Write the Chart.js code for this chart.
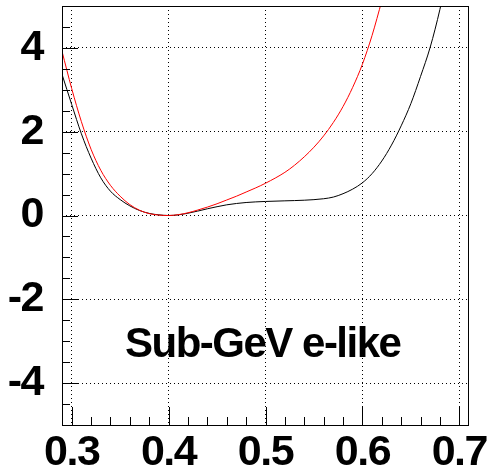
<!DOCTYPE html>
<html>
<head>
<meta charset="utf-8">
<script src="https://cdn.jsdelivr.net/npm/chart.js@4"></script>
<style>
  html, body { margin: 0; padding: 0; background: #fff; }
  #wrap { width: 490px; height: 473px; }
</style>
</head>
<body>
<div id="wrap"><canvas id="c" width="490" height="473"></canvas></div>
<script>
// Δχ² scan, Sub-GeV e-like sample
const blackX = [0.29, 0.30, 0.31, 0.32, 0.33, 0.34, 0.35, 0.36, 0.37, 0.38, 0.39, 0.40, 0.41, 0.42, 0.43, 0.44, 0.45, 0.46, 0.48, 0.50, 0.52, 0.54, 0.56, 0.57, 0.58, 0.59, 0.60, 0.61, 0.62, 0.63, 0.64, 0.65, 0.66, 0.67, 0.68, 0.69];
const blackY = [3.37, 2.65, 1.95, 1.37, 0.90, 0.58, 0.38, 0.23, 0.12, 0.05, 0.015, 0.0, 0.015, 0.055, 0.105, 0.16, 0.21, 0.255, 0.31, 0.335, 0.35, 0.365, 0.40, 0.44, 0.52, 0.63, 0.78, 1.0, 1.3, 1.68, 2.14, 2.67, 3.32, 4.02, 4.92, 6.0];

const redX = [0.29, 0.30, 0.31, 0.32, 0.33, 0.34, 0.35, 0.36, 0.37, 0.38, 0.39, 0.40, 0.41, 0.42, 0.43, 0.44, 0.45, 0.46, 0.47, 0.48, 0.49, 0.50, 0.52, 0.53, 0.54, 0.55, 0.56, 0.57, 0.58, 0.59, 0.60, 0.61, 0.62];
const redY = [3.92, 3.03, 2.24, 1.58, 1.08, 0.72, 0.46, 0.26, 0.125, 0.045, 0.01, 0.0, 0.02, 0.065, 0.13, 0.20, 0.28, 0.37, 0.46, 0.56, 0.66, 0.77, 1.03, 1.20, 1.40, 1.63, 1.90, 2.22, 2.60, 3.06, 3.61, 4.30, 5.12];

const xTicks = [0.3, 0.4, 0.5, 0.6, 0.7];
const yTicks = [-4, -2, 0, 2, 4];
const xRange = [0.29, 0.71];
const yRange = [-5, 5];
const panelLabel = 'Sub-GeV e-like';

const toPoints = (xs, ys) => xs.map((v, i) => ({ x: v, y: ys[i] }));

const FONT = '"Liberation Sans", Arial, Helvetica, sans-serif';

// Fixed axis boxes so the frame sits at a set place on the canvas
function fixBox(s, w, h) {
  if (w !== null) s.width = w;
  if (h !== null) s.height = h;
  s.paddingLeft = 0; s.paddingRight = 0; s.paddingTop = 0; s.paddingBottom = 0;
}

// Frame, inward tick marks and the panel caption, drawn ROOT style
const frameTicks = {
  id: 'frameTicks',
  beforeDraw(chart) {
    chart.ctx.letterSpacing = '-1.5px';
  },
  afterDatasetsDraw(chart) {
    const { ctx, chartArea: a, scales: { x, y } } = chart;
    ctx.save();
    ctx.strokeStyle = '#000';
    ctx.lineWidth = 1;
    ctx.setLineDash([]);
    ctx.beginPath();
    // x ticks: minor every 0.02, major on labelled values
    for (let k = Math.ceil(xRange[0] / 0.02 - 1e-6); k * 0.02 <= xRange[1] + 1e-9; k++) {
      const v = k * 0.02;
      const major = xTicks.some(t => Math.abs(t - v) < 1e-6);
      const px = Math.round(x.getPixelForValue(v)) + 0.5;
      ctx.moveTo(px, a.bottom);
      ctx.lineTo(px, a.bottom - (major ? 18 : 8));
    }
    // y ticks: minor every 0.5
    for (let k = Math.ceil(yRange[0] / 0.5) + 1; k * 0.5 < yRange[1]; k++) {
      const v = k * 0.5;
      const major = yTicks.some(t => Math.abs(t - v) < 1e-6);
      const py = Math.round(y.getPixelForValue(v)) + 0.5;
      ctx.moveTo(a.left, py);
      ctx.lineTo(a.left + (major ? 16 : 8), py);
    }
    ctx.stroke();
    // frame
    ctx.strokeRect(a.left + 0.5, a.top + 0.5, a.right - a.left - 1, a.bottom - a.top);
    // caption
    ctx.fillStyle = '#000';
    ctx.font = 'bold 42px ' + FONT;
    ctx.letterSpacing = '-1.5px';
    ctx.textAlign = 'left';
    ctx.textBaseline = 'alphabetic';
    ctx.fillText(panelLabel, a.left + 63, a.top + 351);
    ctx.restore();
  }
};

new Chart(document.getElementById('c'), {
  type: 'line',
  data: {
    datasets: [
      {
        data: toPoints(redX, redY),
        borderColor: '#ff0000',
        borderWidth: 1,
        pointRadius: 0,
        cubicInterpolationMode: 'monotone',
        fill: false,
        clip: 0
      },
      {
        data: toPoints(blackX, blackY),
        borderColor: '#000000',
        borderWidth: 1,
        pointRadius: 0,
        cubicInterpolationMode: 'monotone',
        fill: false,
        clip: 0
      }
    ]
  },
  options: {
    responsive: false,
    animation: false,
    devicePixelRatio: 1,
    layout: { padding: { left: 0, top: 6, right: 21, bottom: 0 } },
    plugins: { legend: { display: false }, tooltip: { enabled: false }, title: { display: false } },
    scales: {
      x: {
        type: 'linear',
        min: xRange[0],
        max: xRange[1],
        afterBuildTicks: s => { s.ticks = xTicks.map(v => ({ value: v })); },
        afterFit: s => fixBox(s, null, 48),
        ticks: {
          color: '#000',
          padding: 2,
          maxRotation: 0,
          autoSkip: false,
          font: { family: FONT, size: 43, weight: 'bold' },
          callback: v => Number(v).toFixed(1)
        },
        grid: { color: '#000', lineWidth: 1, drawTicks: false },
        border: { display: false, dash: [1, 3] }
      },
      y: {
        type: 'linear',
        min: yRange[0],
        max: yRange[1],
        afterBuildTicks: s => { s.ticks = yTicks.map(v => ({ value: v })); },
        afterFit: s => fixBox(s, 62, null),
        ticks: {
          color: '#000',
          padding: 19,
          autoSkip: false,
          font: { family: FONT, size: 43, weight: 'bold' },
          callback: v => String(Math.round(v))
        },
        grid: { color: '#000', lineWidth: 1, drawTicks: false },
        border: { display: false, dash: [1, 3] }
      }
    }
  },
  plugins: [frameTicks]
});
</script>
</body>
</html>
